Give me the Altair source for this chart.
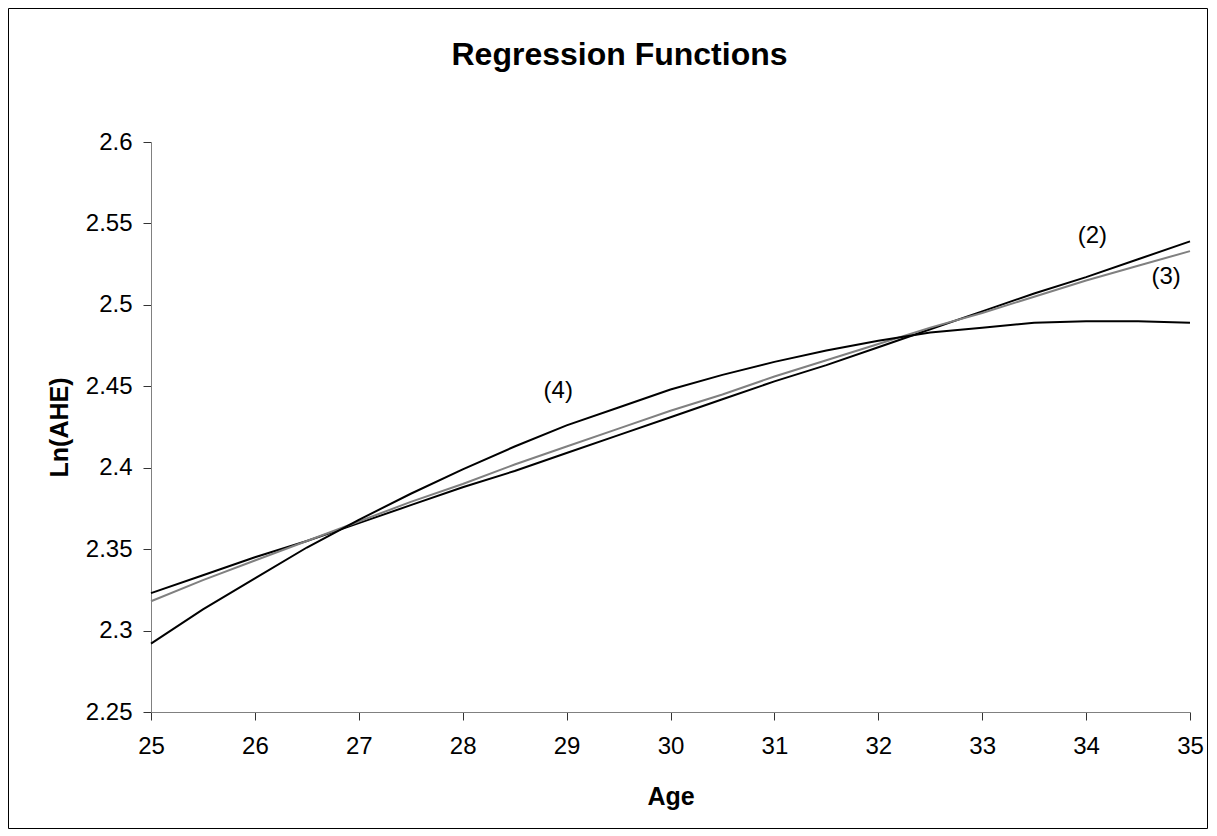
import altair as alt
import pandas as pd

# ---- data ----
ages = [25, 25.5, 26, 26.5, 27, 27.5, 28, 28.5, 29, 29.5, 30,
        30.5, 31, 31.5, 32, 32.5, 33, 33.5, 34, 34.5, 35]
ln_ahe_2 = [2.323, 2.334, 2.345, 2.355, 2.366, 2.377, 2.388, 2.398, 2.409, 2.420, 2.431,
            2.442, 2.453, 2.463, 2.474, 2.485, 2.496, 2.507, 2.517, 2.528, 2.539]
ln_ahe_3 = [2.318, 2.331, 2.343, 2.355, 2.367, 2.379, 2.390, 2.402, 2.413, 2.424, 2.435,
            2.445, 2.456, 2.466, 2.476, 2.486, 2.495, 2.505, 2.515, 2.524, 2.533]
ln_ahe_4 = [2.292, 2.313, 2.332, 2.351, 2.368, 2.384, 2.399, 2.413, 2.426, 2.437, 2.448,
            2.457, 2.465, 2.472, 2.478, 2.483, 2.486, 2.489, 2.490, 2.490, 2.489]

series_names = ["(2)", "(3)", "(4)"]
series_colors = ["#000000", "#808080", "#000000"]

label_text = ["(2)", "(3)", "(4)"]
label_age = [34.06, 34.77, 28.92]
label_value = [2.542, 2.517, 2.447]

x_ticks = [25, 26, 27, 28, 29, 30, 31, 32, 33, 34, 35]
y_ticks = [2.25, 2.3, 2.35, 2.4, 2.45, 2.5, 2.55, 2.6]

FONT = "Liberation Sans, Arial, sans-serif"

rows = []
for name, vals in zip(series_names, [ln_ahe_2, ln_ahe_3, ln_ahe_4]):
    for a, v in zip(ages, vals):
        rows.append({"Age": a, "LnAHE": v, "Series": name})
df = pd.DataFrame(rows)
labels_df = pd.DataFrame({"Age": label_age, "LnAHE": label_value, "Label": label_text})

x_enc = alt.X("Age:Q",
              scale=alt.Scale(domain=[25, 35], nice=False, zero=False),
              axis=alt.Axis(title="Age", values=x_ticks, format="d", grid=False,
                            tickSize=8, labelPadding=14, labelFontSize=24,
                            labelFont=FONT, labelColor="#000",
                            titleFont=FONT, titleFontSize=25, titleFontWeight="bold",
                            titleColor="#000", titleY=92, titleBaseline="alphabetic",
                            domainColor="#808080", tickColor="#333", labelFlush=False))
y_enc = alt.Y("LnAHE:Q",
              scale=alt.Scale(domain=[2.25, 2.6], nice=False, zero=False),
              axis=alt.Axis(title="Ln(AHE)", values=y_ticks, format="~g", grid=False,
                            tickSize=8, labelPadding=11, labelFontSize=24,
                            labelFont=FONT, labelColor="#000",
                            titleFont=FONT, titleFontSize=25, titleFontWeight="bold",
                            titleColor="#000", titleX=-92, titleY=285, titleAngle=-90,
                            titleBaseline="middle", titleAlign="center",
                            domainColor="#808080", tickColor="#333", labelFlush=False))

lines = alt.Chart(df).mark_line(strokeWidth=2).encode(
    x=x_enc, y=y_enc,
    color=alt.Color("Series:N", scale=alt.Scale(domain=series_names, range=series_colors),
                    legend=None),
    detail="Series:N",
)

texts = alt.Chart(labels_df).mark_text(font=FONT, fontSize=24, color="#000",
                                       align="center", baseline="middle").encode(
    x="Age:Q", y="LnAHE:Q", text="Label:N")

frame = alt.Chart(pd.DataFrame({"f": [0]})).mark_rect(
    fill=None, stroke="#000", strokeWidth=1).encode(
    x=alt.value(-142.5), x2=alt.value(1056.5), y=alt.value(-133.5), y2=alt.value(686.5))

chart = alt.layer(frame, lines, texts).properties(
    width=1039, height=570,
    title=alt.TitleParams("Regression Functions", font=FONT, fontSize=32,
                          fontWeight="bold", color="#000", anchor="middle",
                          dx=-51, offset=-96, baseline="bottom"),
    autosize=alt.AutoSizeParams(type="none"),
    padding={"left": 143, "top": 134, "right": 18, "bottom": 117},
    background="white",
).configure_view(stroke=None)

chart.save("out.html", embed_options={"renderer": "svg", "actions": False})
